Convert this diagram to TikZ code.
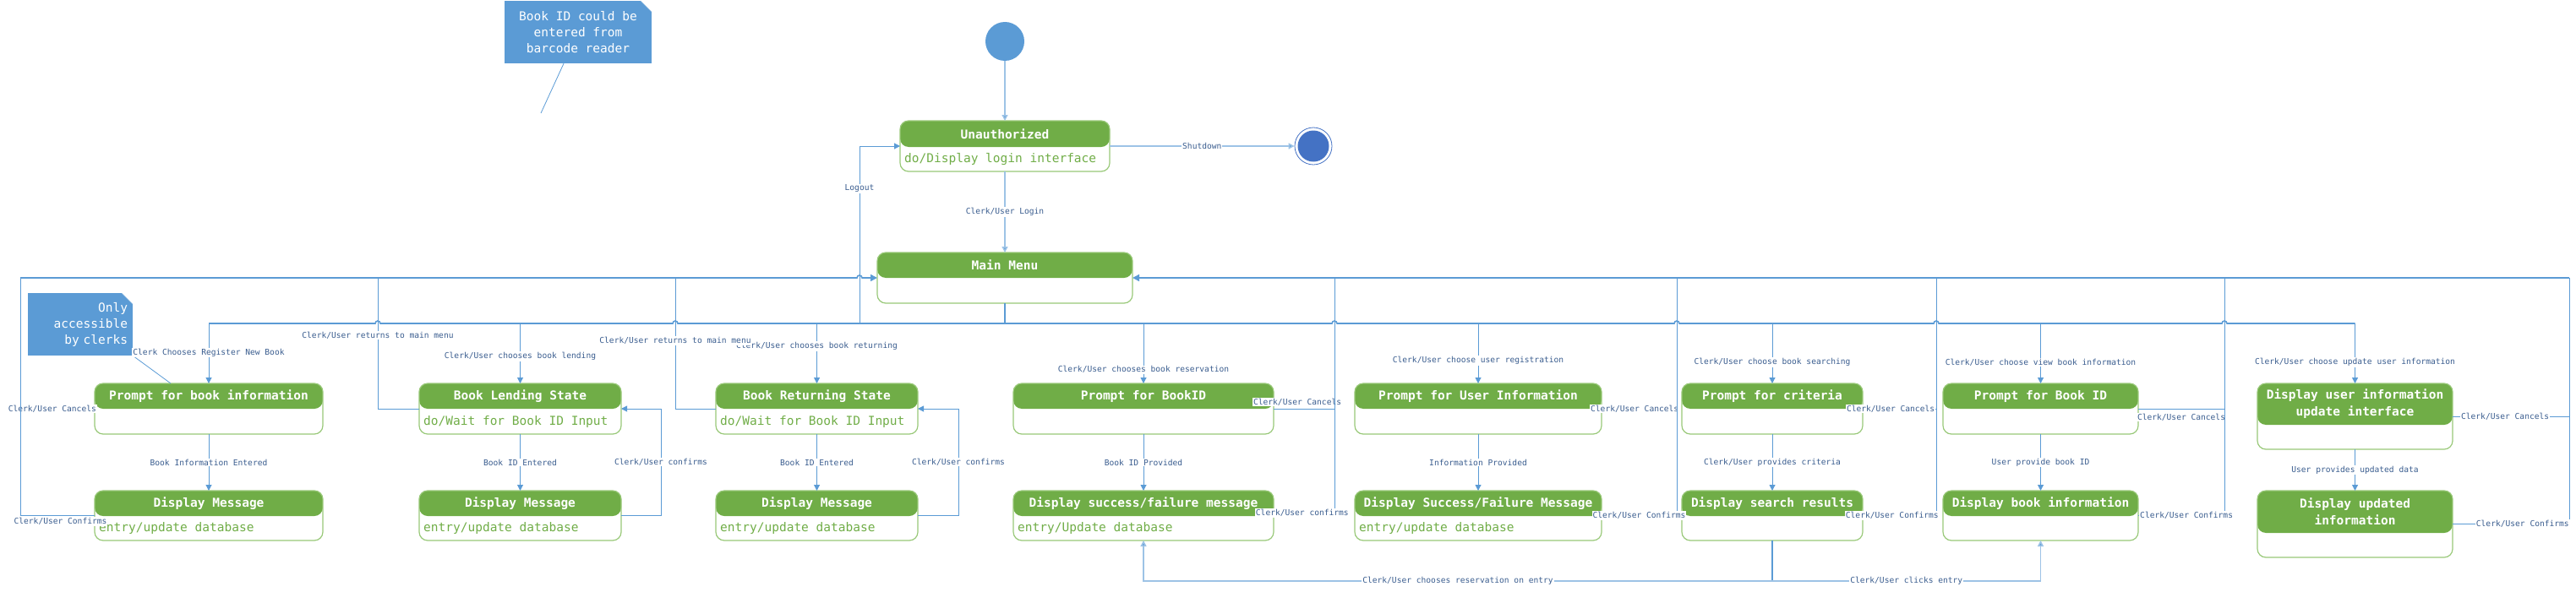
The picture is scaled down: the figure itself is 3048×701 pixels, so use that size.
\documentclass[tikz,border=0pt]{standalone}
\usepackage{fontspec}
\setmainfont{DejaVu Sans Mono}
\usetikzlibrary{positioning}
\usetikzlibrary{arrows.meta}

\definecolor{headgreen}{HTML}{70AD47}
\definecolor{stateline}{HTML}{98C878}
\definecolor{lineblue}{HTML}{5B9BD5}
\definecolor{lightblue}{HTML}{9DC3E6}
\definecolor{noteblue}{HTML}{5B9BD5}
\definecolor{finblue}{HTML}{4472C4}
\definecolor{lblcol}{HTML}{3A5D8F}

\tikzset{
  headh/.store in=\headsize, headh=30,
  state/.style={draw=stateline, line width=1.2pt, rounded corners=10pt, anchor=north,
    inner sep=0pt, outer sep=0pt,
    path picture={\fill[headgreen] (path picture bounding box.north west) rectangle
      ([yshift=-\headsize pt]path picture bounding box.north east);}},
  title/.style={text=white, font=\bfseries\fontsize{14.5}{20}\selectfont, align=center, inner sep=0pt},
  body/.style={text=headgreen, font=\fontsize{14.5}{18}\selectfont, anchor=west, inner sep=0pt},
  lbl/.style={text=lblcol, font=\fontsize{9.6}{11}\selectfont, fill=white, inner sep=1pt},
  flow/.style={draw=lineblue, line width=1pt, -{Triangle[length=7pt,width=7pt]}},
  flowl/.style={draw=lightblue, line width=1.5pt, -{Triangle[length=7pt,width=7pt,fill=lineblue]}},
  line/.style={draw=lineblue, line width=1pt},
  bus/.style={draw=lineblue, line width=1.6pt},
  note/.style={fill=noteblue, text=white, font=\fontsize{14.5}{19}\selectfont, inner sep=0pt,
    path picture={\fill[white] ([xshift=-13pt]path picture bounding box.north east) --
      (path picture bounding box.north east) -- ([yshift=-13pt]path picture bounding box.north east) -- cycle;
      \draw[lightblue] ([xshift=-13pt]path picture bounding box.north east) --
      ([yshift=-13pt]path picture bounding box.north east);}},
  notelink/.style={draw=lineblue, line width=0.8pt}
}

\begin{document}
\begin{tikzpicture}[x=1pt,y=-1pt]
    \useasboundingbox (0,0) rectangle (3048,701);

    % start and end
    \node[circle, fill=noteblue, minimum size=46pt, inner sep=0pt] (init) at (1189,49) {};
    \node[circle, draw=finblue, line width=0.8pt, minimum size=44pt, inner sep=0pt] (fin) at (1554,173) {};
    \node[circle, fill=finblue, minimum size=37pt, inner sep=0pt] (fin-in) at (fin) {};

    % states: name/x/top/width/height/header/title/body
    \foreach \nm/\cx/\ty/\bw/\bh/\hd/\ttl/\bdy in {
        ua/1189/143/248/60/31/Unauthorized/{do/Display login interface},
        mm/1189/299/302/60/30/Main Menu/{},
        pbi/247/454/270/60/30/Prompt for book information/{},
        bls/615.5/454/239/60/30/Book Lending State/{do/Wait for Book ID Input},
        brs/966.5/454/239/60/30/Book Returning State/{do/Wait for Book ID Input},
        pbk/1353/454/308/60/30/Prompt for BookID/{},
        pui/1749/454/292/60/30/Prompt for User Information/{},
        pcr/2097/454/214/60/30/Prompt for criteria/{},
        pbd/2414.5/454/231/60/30/Prompt for Book ID/{},
        dui/2786.5/454/231/78/49/{Display user information\\update interface}/{},
        dm1/247/581/270/59/30/Display Message/{entry/update database},
        dm2/615.5/581/239/59/30/Display Message/{entry/update database},
        dm3/966.5/581/239/59/30/Display Message/{entry/update database},
        dsf/1353/581/308/59/30/{Display success/failure message}/{entry/Update database},
        dsu/1749/581/292/59/30/{Display Success/Failure Message}/{entry/update database},
        dsr/2097/581/214/59/30/Display search results/{},
        dbi/2414.5/581/231/59/30/Display book information/{},
        dun/2786.5/581/231/79/50/{Display updated\\information}/{}}{
        \node[state, minimum width=\bw pt, minimum height=\bh pt, headh=\hd] (\nm) at (\cx,\ty) {};
        \node[title] (\nm-t) at ([yshift=-\hd/2]\nm.north) {\ttl};
        \node[body] (\nm-b) at ([xshift=5pt, yshift={-(\hd+\bh)/2}]\nm.north west) {\bdy};
    }

    % notes
    \node[note, minimum width=174pt, minimum height=74pt, align=center] (nb) at (684,38)
        {Book ID could be\\entered from\\barcode reader};
    \coordinate (nbend) at (640,134);
    \draw[notelink] ([xshift=-17pt]nb.south) -- (nbend);
    \node[note, minimum width=124pt, minimum height=74pt, align=right, text width=112pt] (na) at (95,384)
        {Only\\accessible\\by clerks};
    \draw[notelink] (na.south east) -- ([xshift=90pt]pbi.north west);

    % bus points
    \coordinate (lb) at (0,383);
    \coordinate (ul) at (24,329);
    \coordinate (r2) at (447,329);
    \coordinate (r3) at (799,329);
    \coordinate (v4) at (1579,329);
    \coordinate (v5) at (1984,329);
    \coordinate (v6) at (2291,329);
    \coordinate (v7) at (2632,329);
    \coordinate (v8) at (3040,329);
    \coordinate (lo) at (1017,383);
    \coordinate (bt) at (0,688);

    % top part
    \draw[flowl] (init) -- (ua);
    \draw[flowl] (ua.east) -- (fin) node[lbl, midway] {Shutdown};
    \draw[flowl] (ua) -- (mm) node[lbl, midway] {Clerk/User Login};

    % lower bus out of main menu
    \draw[bus] (mm.south) -- (mm.south |- lb);
    \draw[bus] (pbi.north |- lb) -- (444,383) arc[start angle=180,end angle=360,radius=3]
        -- (796,383) arc[start angle=180,end angle=360,radius=3]
        -- (1576,383) arc[start angle=180,end angle=360,radius=3]
        -- (1981,383) arc[start angle=180,end angle=360,radius=3]
        -- (2288,383) arc[start angle=180,end angle=360,radius=3]
        -- (2629,383) arc[start angle=180,end angle=360,radius=3]
        -- (dui.north |- lb);
    \draw[flow] (lo) |- (ua.west) node[lbl, pos=0.38] {Logout};

    \foreach \nm/\p/\txt in {pbi/0.49/Clerk Chooses Register New Book,
        bls/0.55/{Clerk/User chooses book lending},
        brs/0.38/{Clerk/User chooses book returning},
        pbk/0.77/{Clerk/User chooses book reservation},
        pui/0.62/{Clerk/User choose user registration},
        pcr/0.65/{Clerk/User choose book searching},
        pbd/0.65/{Clerk/User choose view book information},
        dui/0.65/{Clerk/User choose update user information}}
        \draw[flow] (\nm.north |- lb) -- (\nm.north) node[lbl, pos=\p] {\txt};

    % first row to second row
    \foreach \src/\dst/\txt in {pbi/dm1/Book Information Entered, bls/dm2/Book ID Entered,
        brs/dm3/Book ID Entered, pbk/dsf/Book ID Provided, pui/dsu/Information Provided,
        pcr/dsr/{Clerk/User provides criteria}, pbd/dbi/{User provide book ID},
        dui/dun/User provides updated data}
        \draw[flow] (\src) -- (\dst) node[lbl, midway] {\txt};

    % back to main menu
    \draw[line] (pbi.west) -- (pbi.west -| ul) node[lbl, pos=0.57] {Clerk/User Cancels};
    \draw[line] (dm1.west) -| (ul) node[lbl, pos=0.23, yshift=-7pt] {Clerk/User Confirms};
    \draw[line] (bls.west) -| (r2) node[lbl, pos=0.78] {Clerk/User returns to main menu};
    \draw[line] (brs.west) -| (r3) node[lbl, pos=0.76] {Clerk/User returns to main menu};
    \draw[flow] (dm2.east) -- ++(47,0) |- (bls.east) node[lbl, pos=0.25] {Clerk/User confirms};
    \draw[flow] (dm3.east) -- ++(48,0) |- (brs.east) node[lbl, pos=0.25] {Clerk/User confirms};

    \draw[line] (pbk.east) -- (pbk.east -| v4) node[lbl, pos=0.39, yshift=8pt] {Clerk/User Cancels};
    \draw[line] (dsf.east) -| (v4) node[lbl, pos=0.235, yshift=3pt] {Clerk/User confirms};
    \draw[line] (pui.east) -- (pui.east -| v5) node[lbl, pos=0.44] {Clerk/User Cancels};
    \draw[line] (dsu.east) -| (v5) node[lbl, pos=0.25] {Clerk/User Confirms};
    \draw[line] (pcr.east) -- (pcr.east -| v6) node[lbl, pos=0.38] {Clerk/User Cancels};
    \draw[line] (dsr.east) -| (v6) node[lbl, pos=0.2] {Clerk/User Confirms};
    \draw[line] (pbd.east) -- (pbd.east -| v7) node[lbl, pos=0.5, yshift=-10pt] {Clerk/User Cancels};
    \draw[line] (dbi.east) -| (v7) node[lbl, pos=0.28] {Clerk/User Confirms};
    \draw[line] (dui.east) -- (dui.east -| v8) node[lbl, pos=0.45] {Clerk/User Cancels};
    \draw[line] (dun.east) -| (v8) node[lbl, pos=0.3] {Clerk/User Confirms};

    % upper bus into main menu
    \draw[bus, -{Triangle[length=8pt,width=8pt]}] (ul) -- (1014,329)
        arc[start angle=180,end angle=360,radius=3] -- (mm.west);
    \draw[bus, -{Triangle[length=8pt,width=8pt]}] (v8) -- (mm.east);

    % from search results
    \draw[bus] (dsr.south) -- (dsr.south |- bt);
    \draw[flowl] (dsr.south |- bt) -| (dsf.south) node[lbl, pos=0.25] {Clerk/User chooses reservation on entry};
    \draw[flowl] (dsr.south |- bt) -| (dbi.south) node[lbl, pos=0.25] {Clerk/User clicks entry};
\end{tikzpicture}
\end{document}
